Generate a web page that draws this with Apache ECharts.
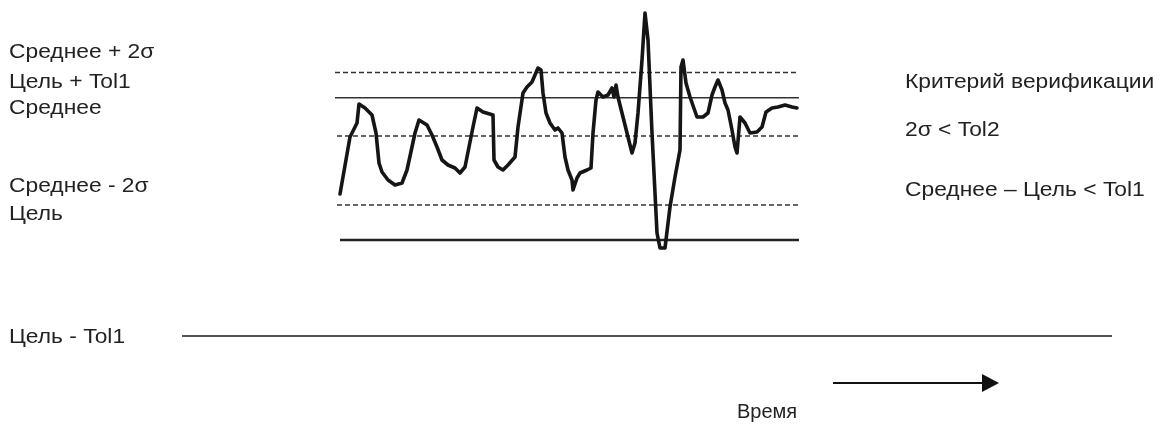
<!DOCTYPE html>
<html>
<head>
<meta charset="utf-8">
<style>
html,body{margin:0;padding:0;background:#fff;}
#chart{width:1160px;height:430px;}
</style>
<script src="https://cdn.jsdelivr.net/npm/echarts@6/dist/echarts.min.js"></script>
</head>
<body>
<div id="chart"></div>
<script>
// Time axis (arbitrary units) and measured values (arbitrary units, Target = 0)
var timeValues = [0,5,8.5,9.5,12.5,16,18,19.5,21,24,27.5,31,33.5,36,37.5,39.5,43.5,46,48.5,51,54,57.5,60,62.5,64.5,66.5,68.5,71.5,76.5,77,79,81.5,84,87.5,89,91.5,93.5,96,97.5,99,100.5,101.5,103,105,107.5,109,111,112.5,114,116,116.5,118.5,120,123.5,125.5,126.5,128,129,131.5,134,136,137,138,139,141,143.5,146,147.5,149,151,152.5,154,156,158.5,160,162.5,165,167.5,170,170.5,171.5,173,175,178.5,181.5,184,186,187.5,189,191,192.5,194,196,197.5,198.5,200,202.5,205,208.5,211,213,216,219,222.5,226,228.5];
var measured = [4.6,10.3,11.7,13.6,13.2,12.5,10.7,7.7,6.8,6.0,5.5,5.7,7.0,9.3,10.7,12.0,11.5,10.5,9.3,8.0,7.5,7.2,6.7,7.3,9.3,11.3,13.2,12.8,12.5,8.0,7.3,7.0,7.5,8.3,11.3,14.7,15.3,15.8,16.5,17.2,17.0,14.7,12.7,11.7,11.0,11.2,10.7,8.3,7.0,6.0,5.0,6.2,6.7,7.0,7.2,10.7,14.0,14.8,14.3,14.5,15.2,14.3,15.5,14.3,12.7,10.7,8.7,9.7,12.7,18.0,22.7,20.0,10.7,0.7,-0.8,-0.8,3.3,6.3,9.0,17.3,18.0,15.7,14.3,12.3,12.3,12.7,14.5,15.3,16.0,15.0,13.7,13.0,11.0,9.3,8.7,12.3,11.7,10.7,10.8,11.3,12.8,13.2,13.3,13.5,13.3,13.2];

// Reference levels
var levelNames = ['Среднее + 2σ','Цель + Tol1','Среднее','Среднее - 2σ','Цель','Цель - Tol1'];
var levelValues = [16.75, 14.23, 10.4, 3.5, 0, -9.6];
var levelStart = [-2.5, -2.5, -1.5, -1.5, 0, -79];
var levelEnd = [229.5, 229.5, 229.5, 229.5, 229.5, 386];

// Text
var leftLabels = ['Среднее + 2σ','Цель + Tol1','Среднее','Среднее - 2σ','Цель','Цель - Tol1'];
var rightLabels = ['Критерий верификации','2σ < Tol2','Среднее – Цель < Tol1'];
var timeLabel = 'Время';

var chart = echarts.init(document.getElementById('chart'), null, {renderer:'canvas'});

var measuredData = timeValues.map(function(t,i){return [t, measured[i]];});

var levelStyles = [
  {type:[5,3], width:1.6, color:'#333'},
  {type:'solid', width:1.4, color:'#333'},
  {type:[5,3], width:1.6, color:'#333'},
  {type:[5,3], width:1.6, color:'#333'},
  {type:'solid', width:2.4, color:'#222'},
  {type:'solid', width:1.3, color:'#1a1a1a'}
];

var series = levelValues.map(function(v,i){
  return {
    type:'line', name: levelNames[i], silent:true, symbol:'none', animation:false,
    data:[[levelStart[i], v],[levelEnd[i], v]],
    lineStyle: levelStyles[i]
  };
});
series.push({
  type:'line', name:'Измерения', symbol:'none', animation:false, silent:true,
  data: measuredData,
  lineStyle:{width:3.6, color:'#151515', join:'round', cap:'round'}
});

var textStyle = {fill:'#222', fontFamily:'Liberation Sans, Arial, sans-serif', fontSize:20};
function txt(s, x, y, align, sx){
  return {type:'text', x:x, y:y, scaleX:sx||1.14, silent:true,
    style: Object.assign({text:s, textAlign:align||'left', textVerticalAlign:'middle'}, textStyle)};
}
var leftY = [52, 82, 108, 186, 214, 337];
var rightY = [82, 130, 190];
var graphics = [];
leftLabels.forEach(function(s,i){ graphics.push(txt(s, 9, leftY[i])); });
rightLabels.forEach(function(s,i){ graphics.push(txt(s, 905, rightY[i])); });
graphics.push(txt(timeLabel, 737, 412, 'left', 1.0));
graphics.push({type:'line', silent:true, shape:{x1:833,y1:383,x2:985,y2:383}, style:{stroke:'#111', lineWidth:2}});
graphics.push({type:'polygon', silent:true, shape:{points:[[982,374],[999,383],[982,392]]}, style:{fill:'#111'}});

chart.setOption({
  animation:false,
  backgroundColor:'#fff',
  grid:{left:0, right:0, top:0, bottom:0},
  xAxis:{type:'value', min:-170, max:410, show:false},
  yAxis:{type:'value', min:-19, max:24, show:false},
  series: series,
  graphic: graphics
});
</script>
</body>
</html>
